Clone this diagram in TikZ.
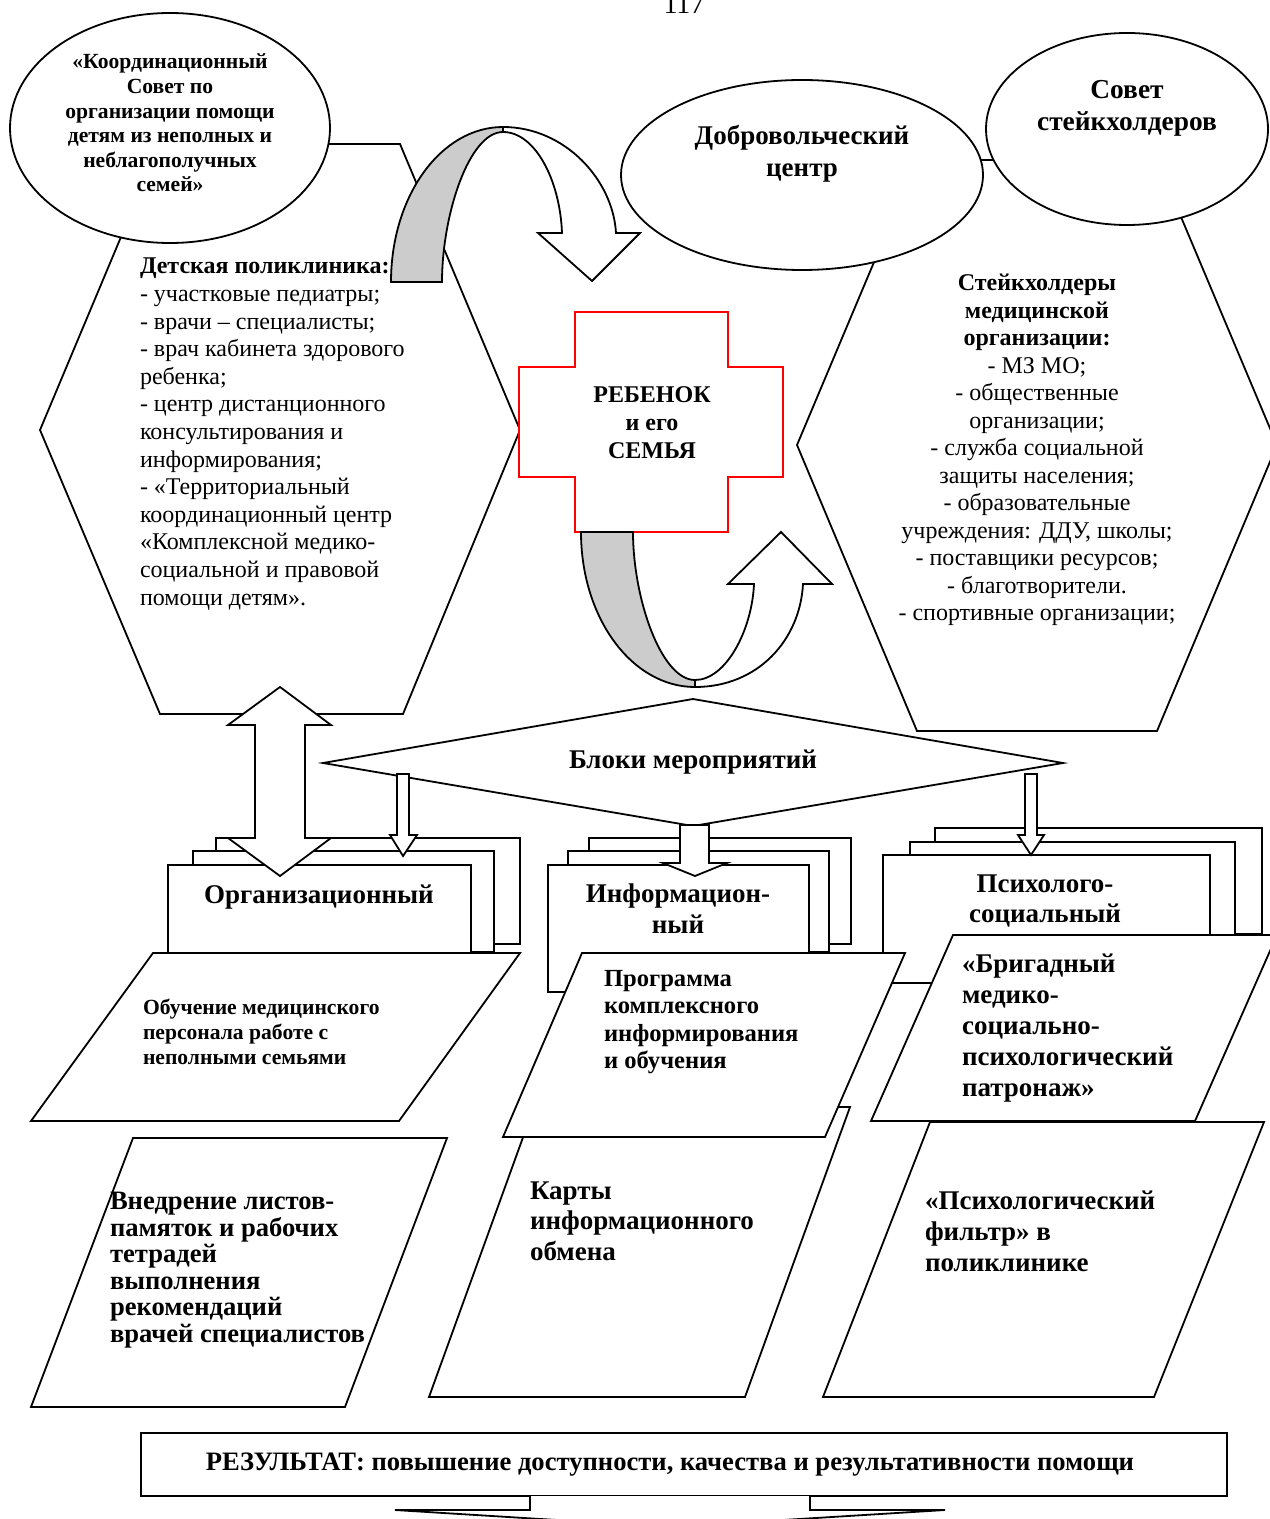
\documentclass[tikz,border=0pt]{standalone}
\usepackage{fontspec}
\setmainfont{Liberation Serif}
\newcommand{\mylt}[1]{\begin{tabular}[t]{@{}l@{}}#1\end{tabular}}
\newcommand{\myct}[1]{\begin{tabular}[t]{@{}c@{}}#1\end{tabular}}
\begin{document}
\begin{tikzpicture}[x=0.5pt,y=-0.5pt,
  shp/.style={draw=black,line width=0.9pt,fill=white,line join=miter},
  band/.style={draw=black,line width=0.9pt,fill=black!20},
  txt/.style={inner sep=0pt,outer sep=0pt}]
\useasboundingbox (0,0) rectangle (1269,1519);
\fill[white] (0,0) rectangle (1269,1519);

% page number
\node[txt,anchor=base,font=\fontsize{14pt}{16pt}\selectfont] (pg) at (684,14) {117};

% left hexagon and ellipse
\draw[shp] (160,144) -- (400,144) -- (520,430) -- (403,714) -- (160,714) -- (40,430) -- cycle;
\draw[shp] (170,128) ellipse [x radius=80pt, y radius=57.5pt];

% right hexagon and ellipses
\draw[shp] (917,160) -- (1157,160) -- (1277,445) -- (1157,731) -- (917,731) -- (797,445) -- cycle;
\draw[shp] (802,175) ellipse [x radius=90.5pt, y radius=47.5pt];
\draw[shp] (1127,129) ellipse [x radius=70.5pt, y radius=48pt];

% red cross
\draw[draw=red,line width=0.9pt,fill=white] (575,312) -- (728,312) -- (728,367) -- (783,367) -- (783,477) -- (728,477) -- (728,532) -- (575,532) -- (575,477) -- (519,477) -- (519,367) -- (575,367) -- cycle;

% top curved arrow
\draw[band] (391,282) .. controls (391,196) and (441,127) .. (503,127) -- (503,132) .. controls (469,132) and (442,215) .. (442,282) -- cycle;
\draw[shp] (503,127) .. controls (565,127) and (613,180) .. (616,233) -- (640,233) -- (592,281) -- (538,233) -- (562,233) .. controls (560,180) and (535,132) .. (503,132) -- cycle;

% bottom curved arrow
\draw[band] (581,532) .. controls (581,618) and (632,687) .. (695,687) -- (695,680) .. controls (661,680) and (633,598) .. (633,532) -- cycle;
\draw[shp] (695,687) .. controls (758,687) and (800,640) .. (803,584) -- (832,584) -- (781,532) -- (728,584) -- (754,584) .. controls (752,630) and (726,680) .. (695,680) -- cycle;

% diamond
\draw[shp] (323,763) -- (693,699) -- (1063,763) -- (693,826) -- cycle;

% stacked boxes
\draw[shp] (216,838) rectangle (520,944);
\draw[shp] (193,851) rectangle (494,952);
\draw[shp] (168,865) rectangle (471,953);
\draw[shp] (589,838) rectangle (851,944);
\draw[shp] (568,851) rectangle (829,952);
\draw[shp] (548,865) rectangle (809,992);
\draw[shp] (935,828) rectangle (1262,934);
\draw[shp] (910,842) rectangle (1235,935);
\draw[shp] (883,855) rectangle (1210,983);

% block arrows
\draw[shp] (280,687) -- (331,725) -- (305,725) -- (305,838) -- (331,838) -- (280,876) -- (228,838) -- (255,838) -- (255,725) -- (228,725) -- cycle;
\draw[shp] (397,774) -- (409,774) -- (409,835) -- (417,835) -- (403,856) -- (390,835) -- (397,835) -- cycle;
\draw[shp] (680,825) -- (709,825) -- (709,863) -- (727,863) -- (695,876) -- (663,863) -- (680,863) -- cycle;
\draw[shp] (1025,774) -- (1037,774) -- (1037,835) -- (1044,835) -- (1031,855) -- (1018,835) -- (1025,835) -- cycle;

% parallelograms
\draw[shp] (153,953) -- (520,953) -- (399,1121) -- (31,1121) -- cycle;
\draw[shp] (534,1107) -- (850,1107) -- (745,1397) -- (429,1397) -- cycle;
\draw[shp] (582,953) -- (905,953) -- (825,1137) -- (503,1137) -- cycle;
\draw[shp] (133,1138) -- (447,1138) -- (345,1407) -- (31,1407) -- cycle;
\draw[shp] (953,935) -- (1277,935) -- (1195,1121) -- (871,1121) -- cycle;
\draw[shp] (930,1122) -- (1264,1122) -- (1154,1397) -- (823,1397) -- cycle;

% result box and arrow
\draw[shp] (141,1433) rectangle (1227,1496);
\draw[shp] (530,1496) -- (530,1510) -- (395,1510) -- (670,1527) -- (945,1510) -- (810,1510) -- (810,1496);

% texts
\node[txt,anchor=base,font=\fontsize{10.8pt}{12.3pt}\selectfont\bfseries] (coord) at (170,69)
  {\myct{«Координационный\\Совет по\\организации помощи\\детям из неполных и\\неблагополучных\\семей»}};
\node[txt,anchor=base west,font=\fontsize{12pt}{13.8pt}\selectfont] (poly) at (140,274)
  {\mylt{\textbf{Детская поликлиника:}\\- участковые педиатры;\\- врачи – специалисты;\\- врач кабинета здорового\\ребенка;\\- центр дистанционного\\консультирования и\\информирования;\\- «Территориальный\\координационный центр\\«Комплексной  медико-\\социальной и правовой\\помощи  детям».}};
\node[txt,anchor=base,font=\fontsize{12pt}{13.75pt}\selectfont] (stake) at (1037,291)
  {\myct{\textbf{Стейкхолдеры}\\\textbf{медицинской}\\\textbf{организации:}\\- МЗ МО;\\- общественные\\организации;\\- служба социальной\\защиты населения;\\- образовательные\\учреждения: ДДУ, школы;\\- поставщики ресурсов;\\- благотворители.\\- спортивные организации;}};
\node[txt,anchor=base,font=\fontsize{12pt}{14pt}\selectfont\bfseries] (child) at (652,402)
  {\myct{РЕБЕНОК\\и его\\СЕМЬЯ}};
\node[txt,anchor=base,font=\fontsize{13.5pt}{16pt}\selectfont\bfseries] (vol) at (802,145)
  {\myct{Добровольческий\\центр}};
\node[txt,anchor=base,font=\fontsize{13.7pt}{16pt}\selectfont\bfseries] (sovet) at (1127,99)
  {\myct{Совет\\стейкхолдеров}};
\node[txt,anchor=base,font=\fontsize{13.5pt}{15pt}\selectfont\bfseries] (blocks) at (693,768)
  {Блоки мероприятий};
\node[txt,anchor=base,font=\fontsize{13.5pt}{16pt}\selectfont\bfseries] (org) at (319,903)
  {Организационный};
\node[txt,anchor=base,font=\fontsize{13.5pt}{15.5pt}\selectfont\bfseries] (info) at (678,902)
  {\myct{Информацион-\\ный}};
\node[txt,anchor=base,font=\fontsize{13.5pt}{15pt}\selectfont\bfseries] (psy) at (1045,892)
  {\myct{Психолого-\\социальный}};
\node[txt,anchor=base west,font=\fontsize{10.8pt}{12.5pt}\selectfont\bfseries] (teach) at (143,1014)
  {\mylt{Обучение медицинского\\персонала работе с\\неполными семьями}};
\node[txt,anchor=base west,font=\fontsize{13.3pt}{13.3pt}\selectfont\bfseries] (leaf) at (110,1209)
  {\mylt{Внедрение листов-\\памяток и рабочих\\тетрадей\\выполнения\\рекомендаций\\врачей специалистов}};
\node[txt,anchor=base west,font=\fontsize{12.3pt}{13.8pt}\selectfont\bfseries] (prog) at (604,986)
  {\mylt{Программа\\комплексного\\информирования\\и обучения}};
\node[txt,anchor=base west,font=\fontsize{13.5pt}{15.25pt}\selectfont\bfseries] (cards) at (530,1199)
  {\mylt{Карты\\информационного\\обмена}};
\node[txt,anchor=base west,font=\fontsize{13.5pt}{15.5pt}\selectfont\bfseries] (brig) at (962,972)
  {\mylt{«Бригадный\\медико-\\социально-\\психологический\\патронаж»}};
\node[txt,anchor=base west,font=\fontsize{13.5pt}{15.7pt}\selectfont\bfseries] (filt) at (925,1209)
  {\mylt{«Психологический\\фильтр» в\\поликлинике}};
\node[txt,anchor=base,font=\fontsize{13.3pt}{15pt}\selectfont\bfseries] (res) at (670,1470)
  {РЕЗУЛЬТАТ: повышение доступности, качества и результативности помощи};
\end{tikzpicture}
\end{document}
